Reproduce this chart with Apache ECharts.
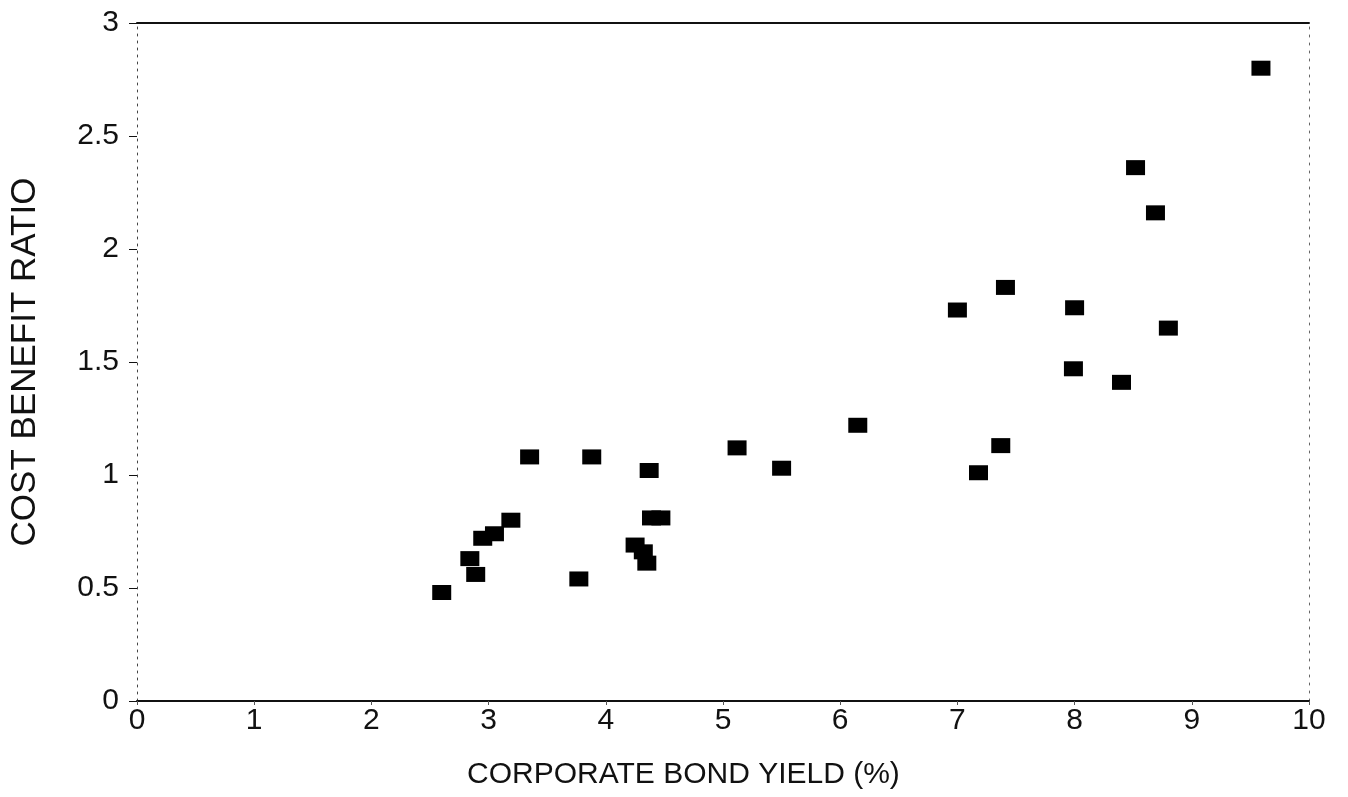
<!DOCTYPE html>
<html>
<head>
<meta charset="utf-8">
<title>Cost Benefit Ratio vs Corporate Bond Yield</title>
<script src="https://cdn.jsdelivr.net/npm/echarts@6/dist/echarts.min.js"></script>
<style>
  html, body { margin: 0; padding: 0; background: #ffffff; }
  #chart { width: 1348px; height: 797px; }
</style>
</head>
<body>
<div id="chart"></div>
<script>
// Corporate bond yield (%) for each observation
const bondYield = [
  2.60, 2.84, 2.89, 2.95, 3.05, 3.19, 3.35, 3.77, 3.88, 4.25,
  4.32, 4.35, 4.37, 4.39, 4.47, 5.12, 5.50, 6.15, 7.00, 7.18,
  7.37, 7.41, 7.99, 8.00, 8.40, 8.52, 8.69, 8.80, 9.59
];
// Cost benefit ratio for each observation
const costBenefit = [
  0.48, 0.63, 0.56, 0.72, 0.74, 0.80, 1.08, 0.54, 1.08, 0.69,
  0.66, 0.61, 1.02, 0.81, 0.81, 1.12, 1.03, 1.22, 1.73, 1.01,
  1.13, 1.83, 1.47, 1.74, 1.41, 2.36, 2.16, 1.65, 2.80
];
const xTicks = [0, 1, 2, 3, 4, 5, 6, 7, 8, 9, 10];
const yTicks = [0, 0.5, 1, 1.5, 2, 2.5, 3];

const xTitle = 'CORPORATE BOND YIELD (%)';
const yTitle = 'COST BENEFIT RATIO';

const points = bondYield.map((x, i) => [x, costBenefit[i]]);

const font = '"Liberation Sans", Arial, Helvetica, sans-serif';
const ink = '#111111';

const chart = echarts.init(document.getElementById('chart'), null, { renderer: 'canvas' });

chart.setOption({
  backgroundColor: '#ffffff',
  animation: false,
  title: {
    text: xTitle,
    left: 462,
    top: 755,
    textStyle: { fontFamily: font, fontSize: 30, fontWeight: 'normal', color: ink }
  },
  grid: { left: 137, right: 39, top: 23, bottom: 96, containLabel: false },
  xAxis: [
    {
      type: 'value',
      position: 'bottom',
      min: xTicks[0],
      max: xTicks[xTicks.length - 1],
      interval: 1,
      axisLine: { show: true, onZero: false, lineStyle: { color: ink, width: 2 } },
      axisTick: { show: true, length: 4, lineStyle: { color: '#555', width: 1 } },
      axisLabel: {
        margin: 5,
        fontFamily: font, fontSize: 30, color: ink,
        formatter: v => xTicks.includes(v) ? String(v) : ''
      },
      splitLine: { show: false }
    },
    {
      type: 'value',
      position: 'top',
      min: xTicks[0],
      max: xTicks[xTicks.length - 1],
      interval: 1,
      axisLine: { show: true, onZero: false, lineStyle: { color: ink, width: 2 } },
      axisTick: { show: false },
      axisLabel: { show: false },
      splitLine: { show: false }
    }
  ],
  yAxis: [
    {
      type: 'value',
      position: 'left',
      min: yTicks[0],
      max: yTicks[yTicks.length - 1],
      interval: 0.5,
      name: yTitle,
      nameLocation: 'middle',
      nameGap: 94,
      nameTextStyle: { fontFamily: font, fontSize: 35, color: ink },
      axisLine: { show: true, onZero: false, lineStyle: { color: '#444', width: 1, type: [2, 5] } },
      axisTick: { show: true, length: 8, lineStyle: { color: ink, width: 1 } },
      axisLabel: {
        margin: 18,
        fontFamily: font, fontSize: 30, color: ink,
        formatter: v => String(v)
      },
      splitLine: { show: false }
    },
    {
      type: 'value',
      position: 'right',
      min: yTicks[0],
      max: yTicks[yTicks.length - 1],
      interval: 0.5,
      axisLine: { show: true, onZero: false, lineStyle: { color: '#666', width: 1, type: [2, 6] } },
      axisTick: { show: false },
      axisLabel: { show: false },
      splitLine: { show: false }
    }
  ],
  series: [
    {
      type: 'scatter',
      xAxisIndex: 0,
      yAxisIndex: 0,
      data: points,
      symbol: 'rect',
      symbolSize: [19, 15],
      itemStyle: { color: '#000000', opacity: 1 }
    }
  ]
});
</script>
</body>
</html>
